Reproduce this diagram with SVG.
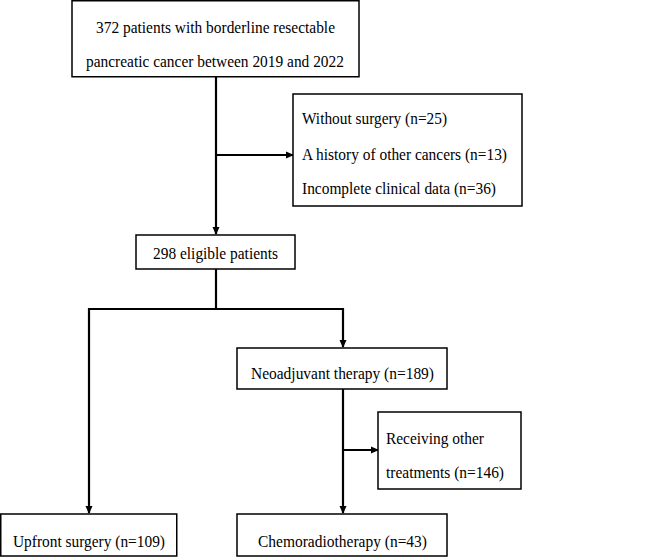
<svg xmlns="http://www.w3.org/2000/svg" width="657" height="557" viewBox="0 0 657 557">
<style>
.box{fill:#fff;stroke:#000;stroke-width:1.5}
.t{font-family:"Liberation Serif","DejaVu Serif","Times New Roman",serif;font-size:16.5px;fill:#000}
.c{text-anchor:middle}
.ln{fill:none;stroke:#000;stroke-width:2.2}
</style>
<defs>
<marker id="ah" markerWidth="8" markerHeight="8" refX="7" refY="4" orient="auto" markerUnits="userSpaceOnUse">
<path d="M0,0.5 L8,4 L0,7.5 Z" fill="#000"/>
</marker>
</defs>
<rect width="657" height="557" fill="#fff"/>
<g id="connectors">
<line class="ln" x1="216" y1="77" x2="216" y2="234" marker-end="url(#ah)"/>
<line class="ln" x1="216" y1="155" x2="293" y2="155" marker-end="url(#ah)"/>
<polyline class="ln" points="216,269 216,309"/>
<polyline class="ln" points="89,309 343,309 343,347" marker-end="url(#ah)"/>
<line class="ln" x1="89" y1="308" x2="89" y2="513" marker-end="url(#ah)"/>
<line class="ln" x1="343" y1="389" x2="343" y2="513" marker-end="url(#ah)"/>
<line class="ln" x1="343" y1="450" x2="378" y2="450" marker-end="url(#ah)"/>
</g>
<g id="n1">
<rect class="box" x="72" y="0.75" width="287" height="76"/>
<text class="t" x="96" y="33" textLength="239" lengthAdjust="spacingAndGlyphs">372 patients with borderline resectable</text>
<text class="t" x="86" y="67" textLength="258" lengthAdjust="spacingAndGlyphs">pancreatic cancer between 2019 and 2022</text>
</g>
<g id="n2">
<rect class="box" x="293" y="94" width="229" height="112"/>
<text class="t" x="302" y="124" textLength="145" lengthAdjust="spacingAndGlyphs">Without surgery (n=25)</text>
<text class="t" x="302" y="160" textLength="205" lengthAdjust="spacingAndGlyphs">A history of other cancers (n=13)</text>
<text class="t" x="302" y="194" textLength="194" lengthAdjust="spacingAndGlyphs">Incomplete clinical data (n=36)</text>
</g>
<g id="n3">
<rect class="box" x="136" y="235" width="159" height="34"/>
<text class="t" x="153" y="259" textLength="125" lengthAdjust="spacingAndGlyphs">298 eligible patients</text>
</g>
<g id="n4">
<rect class="box" x="237" y="348" width="210" height="41"/>
<text class="t" x="251" y="379" textLength="183" lengthAdjust="spacingAndGlyphs">Neoadjuvant therapy (n=189)</text>
</g>
<g id="n5">
<rect class="box" x="378" y="412" width="143" height="77"/>
<text class="t" x="386" y="444" textLength="98" lengthAdjust="spacingAndGlyphs">Receiving other</text>
<text class="t" x="386" y="478" textLength="118" lengthAdjust="spacingAndGlyphs">treatments (n=146)</text>
</g>
<g id="n6">
<rect class="box" x="0.75" y="514" width="176" height="42"/>
<text class="t" x="13" y="547" textLength="152" lengthAdjust="spacingAndGlyphs">Upfront surgery (n=109)</text>
</g>
<g id="n7">
<rect class="box" x="237" y="514" width="210" height="42"/>
<text class="t" x="258" y="547" textLength="169" lengthAdjust="spacingAndGlyphs">Chemoradiotherapy (n=43)</text>
</g>
</svg>
